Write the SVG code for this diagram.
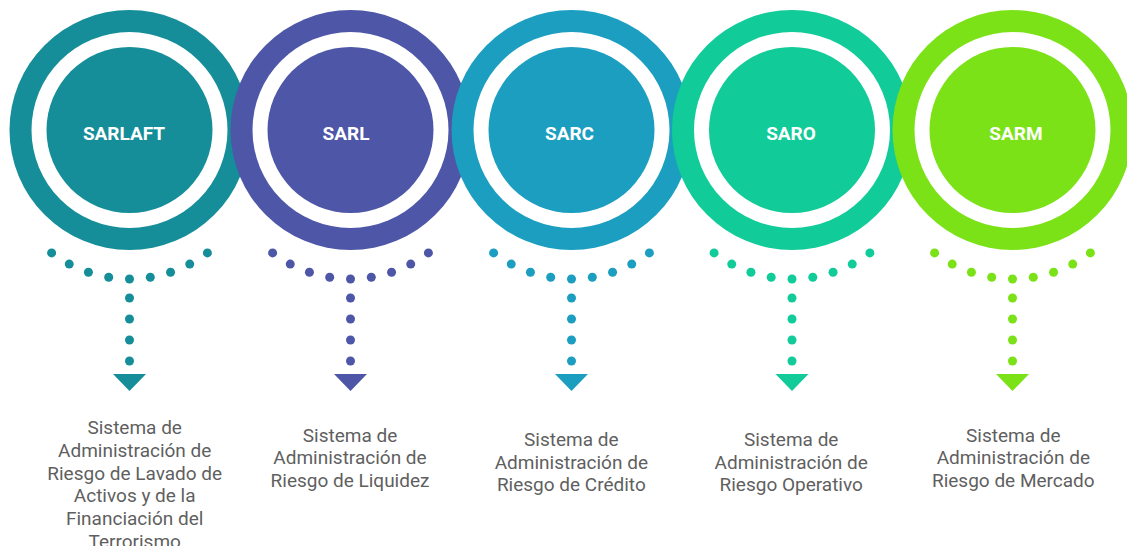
<svg xmlns="http://www.w3.org/2000/svg" xmlns:xlink="http://www.w3.org/1999/xlink" width="1127" height="546" viewBox="0 0 1127 546">
  <style>
    .title { font-family: Roboto, "Liberation Sans", sans-serif; font-weight: 700; font-size: 19px; fill: #ffffff; text-anchor: middle; }
    .label { font-family: Roboto, "Liberation Sans", sans-serif; font-weight: 400; font-size: 19px; fill: #5f5f5f; text-anchor: middle; }
    .gap { fill: #ffffff; }
  </style>
  <defs>
    <g id="dotted-arrow">
      <circle cx="-77.9" cy="252.9" r="4.5"/>
      <circle cx="-60.25" cy="264.1" r="4.5"/>
      <circle cx="-41.06" cy="272.3" r="4.5"/>
      <circle cx="-20.8" cy="277.3" r="4.5"/>
      <circle cx="0" cy="279" r="4.5"/>
      <circle cx="20.8" cy="277.3" r="4.5"/>
      <circle cx="41.06" cy="272.3" r="4.5"/>
      <circle cx="60.25" cy="264.1" r="4.5"/>
      <circle cx="77.9" cy="252.9" r="4.5"/>
      <circle cx="0" cy="298" r="4.5"/>
      <circle cx="0" cy="319" r="4.5"/>
      <circle cx="0" cy="340" r="4.5"/>
      <circle cx="0" cy="361" r="4.5"/>
      <polygon points="-16.5,374 16.5,374 0,391"/>
    </g>
  </defs>
  <rect x="0" y="0" width="1127" height="546" fill="#ffffff"/>

  <g id="node-sarlaft">
    <circle cx="129.5" cy="130" r="120" fill="#158E99"/>
    <circle class="gap" cx="129.5" cy="130" r="98"/>
    <circle cx="129.5" cy="130" r="83" fill="#158E99"/>
    <text class="title" x="124" y="140">SARLAFT</text>
    <text class="label" x="134.7" y="434">Sistema de</text>
    <text class="label" x="134.7" y="456.7">Administración de</text>
    <text class="label" x="134.7" y="479.5">Riesgo de Lavado de</text>
    <text class="label" x="134.7" y="502.3">Activos y de la</text>
    <text class="label" x="134.7" y="525">Financiación del</text>
    <text class="label" x="134.7" y="547.8">Terrorismo</text>
  </g>

  <g id="node-sarl">
    <circle cx="350.5" cy="130" r="120" fill="#4E56A8"/>
    <circle class="gap" cx="350.5" cy="130" r="98"/>
    <circle cx="350.5" cy="130" r="83" fill="#4E56A8"/>
    <text class="title" x="346" y="140">SARL</text>
    <text class="label" x="350" y="441.7">Sistema de</text>
    <text class="label" x="350" y="464.3">Administración de</text>
    <text class="label" x="350" y="486.8">Riesgo de Liquidez</text>
  </g>

  <g id="node-sarc">
    <circle cx="571.5" cy="130" r="120" fill="#1B9EC0"/>
    <circle class="gap" cx="571.5" cy="130" r="98"/>
    <circle cx="571.5" cy="130" r="83" fill="#1B9EC0"/>
    <text class="title" x="569.5" y="140">SARC</text>
    <text class="label" x="571.3" y="446">Sistema de</text>
    <text class="label" x="571.3" y="468.6">Administración de</text>
    <text class="label" x="571.3" y="491.1">Riesgo de Crédito</text>
  </g>

  <g id="node-saro">
    <circle cx="792" cy="130" r="120" fill="#11CB98"/>
    <circle class="gap" cx="792" cy="130" r="98"/>
    <circle cx="792" cy="130" r="83" fill="#11CB98"/>
    <text class="title" x="791" y="140">SARO</text>
    <text class="label" x="791.2" y="446">Sistema de</text>
    <text class="label" x="791.2" y="468.6">Administración de</text>
    <text class="label" x="791.2" y="491.1">Riesgo Operativo</text>
  </g>

  <g id="node-sarm">
    <circle cx="1012.5" cy="130" r="120" fill="#7AE216"/>
    <circle class="gap" cx="1012.5" cy="130" r="98"/>
    <circle cx="1012.5" cy="130" r="83" fill="#7AE216"/>
    <text class="title" x="1016" y="140">SARM</text>
    <text class="label" x="1013.3" y="441.7">Sistema de</text>
    <text class="label" x="1013.3" y="464.3">Administración de</text>
    <text class="label" x="1013.3" y="486.8">Riesgo de Mercado</text>
  </g>

  <g id="connectors">
    <use xlink:href="#dotted-arrow" href="#dotted-arrow" transform="translate(129.5,0)" fill="#158E99"/>
    <use xlink:href="#dotted-arrow" href="#dotted-arrow" transform="translate(350.5,0)" fill="#4E56A8"/>
    <use xlink:href="#dotted-arrow" href="#dotted-arrow" transform="translate(571.5,0)" fill="#1B9EC0"/>
    <use xlink:href="#dotted-arrow" href="#dotted-arrow" transform="translate(792,0)" fill="#11CB98"/>
    <use xlink:href="#dotted-arrow" href="#dotted-arrow" transform="translate(1012.5,0)" fill="#7AE216"/>
  </g>
</svg>
